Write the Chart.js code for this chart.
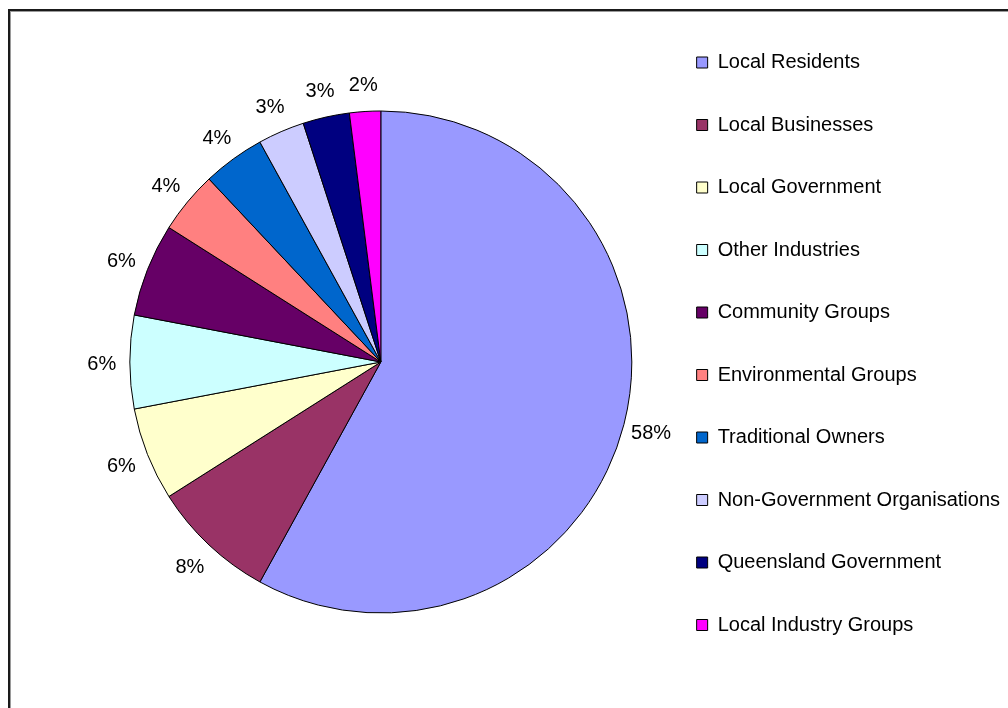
<!DOCTYPE html>
<html>
<head>
<meta charset="utf-8">
<title>Stakeholder groups</title>
<script src="https://cdn.jsdelivr.net/npm/chart.js@4/dist/chart.umd.min.js"></script>
<style>
  html, body { margin: 0; padding: 0; background: #fff; overflow: hidden; width: 1008px; height: 708px; }
  #wrap { position: relative; width: 1008px; height: 708px; overflow: hidden; }
  #chart { position: absolute; left: 0; top: 0; }
  #frame {
    position: absolute; left: 8px; top: 9px; width: 1100px; height: 800px;
    border-left: 2px solid #1a1a1a; border-top: 2px solid #1a1a1a;
    box-shadow: inset 1px 1px 0 #9a9a9a; pointer-events: none;
  }
</style>
</head>
<body>
<div id="wrap">
  <canvas id="chart" width="1010" height="714"></canvas>
  <div id="frame"></div>
</div>
<script>
// Stakeholder groups and their share of responses (%)
const categories = [
  'Local Residents',
  'Local Businesses',
  'Local Government',
  'Other Industries',
  'Community Groups',
  'Environmental Groups',
  'Traditional Owners',
  'Non-Government Organisations',
  'Queensland Government',
  'Local Industry Groups'
];
const shares = [58, 8, 6, 6, 6, 4, 4, 3, 3, 2];
const sliceColors = [
  '#9999FF', '#993366', '#FFFFCC', '#CCFFFF', '#660066',
  '#FF8080', '#0066CC', '#CCCCFF', '#000080', '#FF00FF'
];

const FONT = '"Liberation Sans", Arial, Helvetica, sans-serif';

// Percentage labels placed just outside each slice
const percentLabels = {
  id: 'percentLabels',
  afterDatasetsDraw(chart) {
    const ctx = chart.ctx;
    const meta = chart.getDatasetMeta(0);
    const values = chart.data.datasets[0].data;
    const total = values.reduce((a, b) => a + b, 0);
    ctx.save();
    ctx.font = '20px ' + FONT;
    ctx.fillStyle = '#000';
    ctx.textAlign = 'center';
    ctx.textBaseline = 'middle';
    meta.data.forEach((arc, i) => {
      const p = arc.getProps(['x', 'y', 'startAngle', 'endAngle', 'outerRadius'], true);
      const mid = (p.startAngle + p.endAngle) / 2;
      const r = p.outerRadius + 28;
      const x = p.x + Math.cos(mid) * r;
      const y = p.y + Math.sin(mid) * r + 2;
      ctx.fillText(Math.round(values[i] / total * 100) + '%', x, y);
    });
    ctx.restore();
  }
};

new Chart(document.getElementById('chart'), {
  type: 'pie',
  data: {
    labels: categories,
    datasets: [{
      data: shares,
      backgroundColor: sliceColors,
      borderColor: '#000',
      borderWidth: 1
    }]
  },
  options: {
    responsive: false,
    animation: false,
    events: [],
    radius: 251,
    layout: { padding: { left: 107.5, top: 10, right: 0, bottom: 0 } },
    plugins: {
      tooltip: { enabled: false },
      legend: {
        position: 'right',
        align: 'start',
        labels: {
          color: '#000',
          font: { family: FONT, size: 20 },
          boxWidth: 11,
          boxHeight: 11,
          padding: 42.5
        }
      }
    }
  },
  plugins: [percentLabels]
});
</script>
</body>
</html>
